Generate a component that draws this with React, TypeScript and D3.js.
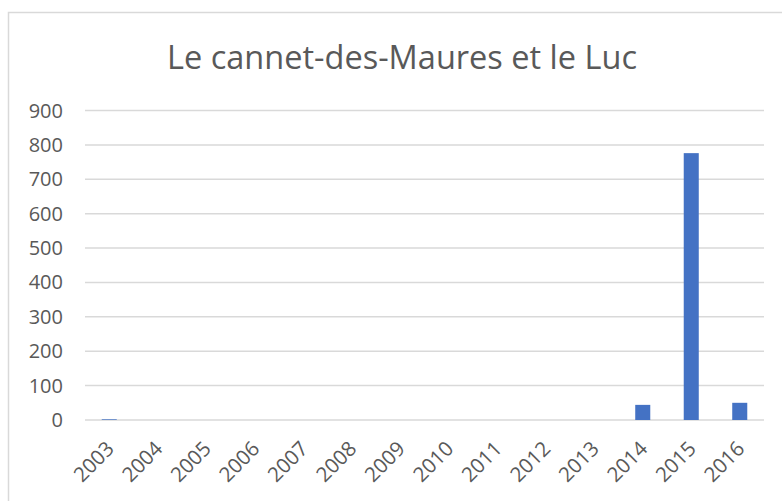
import React from "react";
import * as d3 from "d3";

const years = ["2003", "2004", "2005", "2006", "2007", "2008", "2009", "2010", "2011", "2012", "2013", "2014", "2015", "2016"];
const counts = [2, 0, 0, 0, 0, 0, 0, 0, 0, 0, 0, 44, 776, 50];
const yTicks = [0, 100, 200, 300, 400, 500, 600, 700, 800, 900];
const title = "Le cannet-des-Maures et le Luc";

const W = 782;
const H = 501;
const plot = { left: 85, right: 764, top: 110.5, bottom: 420 };
const font = "'Open Sans', 'Noto Sans', sans-serif";
const textColor = "#595959";
const gridColor = "#d9d9d9";
const barColor = "#4472C4";

export default function App() {
  const x = d3
    .scaleBand<string>()
    .domain(years)
    .range([plot.left, plot.right])
    .paddingInner(0.69)
    .paddingOuter(0.345);
  const y = d3.scaleLinear().domain([0, 900]).range([plot.bottom, plot.top]);

  return (
    <svg
      width={W}
      height={H}
      style={{ position: "absolute", left: 0, top: 0, display: "block", background: "#fff" }}
    >
      <rect x={0} y={0} width={W} height={H} fill="#fff" />
      <rect x={8.5} y={12.5} width={W + 20} height={H + 20} fill="#fff" stroke={gridColor} strokeWidth={1.5} />
      <text
        x={167}
        y={69}
        textLength={470}
        lengthAdjust="spacingAndGlyphs"
        fontFamily={font}
        fontSize={33}
        fill={textColor}
      >
        {title}
      </text>
      {yTicks.map((t) => (
        <g key={t}>
          <line
            x1={plot.left}
            x2={plot.right}
            y1={y(t)}
            y2={y(t)}
            stroke={gridColor}
            strokeWidth={1.5}
          />
          <text
            x={63}
            y={y(t)}
            dy="0.35em"
            textAnchor="end"
            fontFamily={font}
            fontSize={20}
            fill={textColor}
          >
            {t}
          </text>
        </g>
      ))}
      {years.map((yr, i) => {
        const v = counts[i];
        const bx = x(yr) as number;
        return (
          <rect
            key={yr}
            x={bx}
            y={y(v)}
            width={x.bandwidth()}
            height={plot.bottom - y(v)}
            fill={barColor}
          />
        );
      })}
      {years.map((yr) => {
        const cx = (x(yr) as number) + x.bandwidth() / 2;
        return (
          <text
            key={yr}
            transform={`translate(${cx + 1},${plot.bottom + 25}) rotate(-45)`}
            textAnchor="end"
            dy="0.35em"
            fontFamily={font}
            fontSize={20.5}
            fill={textColor}
          >
            {yr}
          </text>
        );
      })}
    </svg>
  );
}
